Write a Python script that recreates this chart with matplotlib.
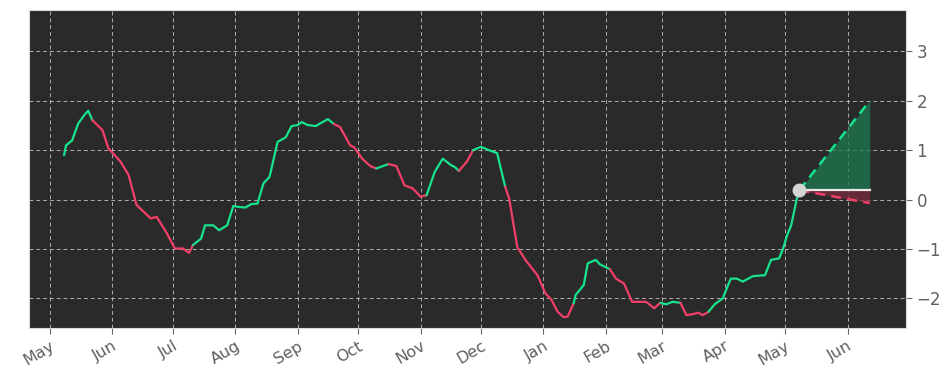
import matplotlib
matplotlib.use("Agg")
import matplotlib.pyplot as plt
import matplotlib.dates as mdates
import numpy as np
import pandas as pd

# ---- data ----
dates = [
    "2022-05-08", "2022-05-09", "2022-05-12", "2022-05-15", "2022-05-18", "2022-05-20",
    "2022-05-22", "2022-05-27", "2022-05-30", "2022-06-05", "2022-06-09", "2022-06-13",
    "2022-06-20", "2022-06-23", "2022-06-28", "2022-07-02", "2022-07-06", "2022-07-09",
    "2022-07-11", "2022-07-15", "2022-07-17", "2022-07-21", "2022-07-24", "2022-07-28",
    "2022-07-31", "2022-08-03", "2022-08-06", "2022-08-09", "2022-08-12", "2022-08-15",
    "2022-08-18", "2022-08-22", "2022-08-26", "2022-08-29", "2022-09-01", "2022-09-03",
    "2022-09-06", "2022-09-10", "2022-09-12", "2022-09-16", "2022-09-19", "2022-09-22",
    "2022-09-27", "2022-09-29", "2022-10-03", "2022-10-07", "2022-10-10", "2022-10-16",
    "2022-10-20", "2022-10-24", "2022-10-28", "2022-11-01", "2022-11-04", "2022-11-08",
    "2022-11-12", "2022-11-16", "2022-11-18", "2022-11-20", "2022-11-24", "2022-11-27",
    "2022-12-01", "2022-12-05", "2022-12-09", "2022-12-13", "2022-12-15", "2022-12-19",
    "2022-12-23", "2022-12-29", "2023-01-02", "2023-01-05", "2023-01-08", "2023-01-11",
    "2023-01-13", "2023-01-16", "2023-01-17", "2023-01-21", "2023-01-23", "2023-01-27",
    "2023-01-29", "2023-02-03", "2023-02-06", "2023-02-10", "2023-02-14", "2023-02-18",
    "2023-02-21", "2023-02-25", "2023-02-28", "2023-03-03", "2023-03-06", "2023-03-10",
    "2023-03-13", "2023-03-16", "2023-03-19", "2023-03-21", "2023-03-24", "2023-03-27",
    "2023-03-31", "2023-04-04", "2023-04-07", "2023-04-10", "2023-04-15", "2023-04-21",
    "2023-04-24", "2023-04-28", "2023-04-30", "2023-05-02", "2023-05-04", "2023-05-07",
    "2023-05-08",
]
values = [
    0.90, 1.10, 1.20, 1.54, 1.71, 1.80,
    1.61, 1.41, 1.04, 0.77, 0.50, -0.11,
    -0.38, -0.35, -0.68, -0.99, -0.99, -1.08,
    -0.92, -0.79, -0.52, -0.52, -0.62, -0.52,
    -0.13, -0.15, -0.16, -0.09, -0.08, 0.33,
    0.46, 1.17, 1.26, 1.49, 1.51, 1.57,
    1.51, 1.49, 1.54, 1.63, 1.53, 1.47,
    1.10, 1.06, 0.83, 0.68, 0.63, 0.72,
    0.68, 0.29, 0.23, 0.06, 0.09, 0.56,
    0.83, 0.70, 0.66, 0.58, 0.77, 1.00,
    1.07, 1.00, 0.94, 0.26, 0.02, -0.96,
    -1.22, -1.53, -1.90, -2.03, -2.27, -2.38,
    -2.37, -2.10, -1.93, -1.73, -1.29, -1.22,
    -1.31, -1.41, -1.60, -1.70, -2.07, -2.07,
    -2.07, -2.20, -2.09, -2.12, -2.07, -2.09,
    -2.34, -2.32, -2.29, -2.34, -2.27, -2.12,
    -2.00, -1.60, -1.60, -1.66, -1.55, -1.53,
    -1.22, -1.19, -0.99, -0.72, -0.52, 0.06,
    0.19,
]
# trend of the segment starting at each point: u = up (green), d = down (red)
trend = list(
    "uuuuuu"
    "dddddd"
    "dddddd"
    "uuuuuu"
    "uuuuuu"
    "uuuuuu"
    "uuuudd"
    "ddddud"
    "dddduu"
    "uuuddu"
    "uuuddd"
    "dddddd"
    "duuuuu"
    "uddddd"
    "dduuud"
    "dddduu"
    "uuuuuu"
    "uuuuuu"
    "u"
)

fc_dates = ["2023-05-08", "2023-06-12"]
fc_upper = [0.19, 2.00]
fc_mid = [0.19, 0.19]
fc_lower = [0.19, -0.07]

month_ticks = pd.date_range("2022-05-01", "2023-06-01", freq="MS")

# ---- style ----
GREEN = "#18e38d"
RED = "#f23f68"
BG = "#2a2a2a"
TXT = "#606060"

x = pd.to_datetime(dates)
y = np.array(values)

fig = plt.figure(figsize=(9.5, 3.81), dpi=100)
ax = fig.add_axes([29 / 950, 1 - 328 / 381, (906 - 29) / 950, (328 - 10) / 381])
ax.set_facecolor(BG)

# draw colored runs
n = len(x)
i = 0
while i < n - 1:
    t = trend[i]
    j = i
    while j < n - 1 and trend[j] == t:
        j += 1
    ax.plot(x[i:j + 1], y[i:j + 1], color=GREEN if t == "u" else RED,
            lw=1.6, solid_capstyle="round", zorder=3)
    i = j

# forecast
fx = pd.to_datetime(fc_dates)
ax.fill_between(fx, fc_mid, fc_upper, color="#1f7a52", alpha=0.75, lw=0, zorder=2)
ax.fill_between(fx, fc_lower, fc_mid, color="#7a2a3c", alpha=0.75, lw=0, zorder=2)
ax.plot(fx, fc_upper, color=GREEN, lw=1.8, ls=(0, (4, 2.5)), zorder=4)
ax.plot(fx, fc_lower, color=RED, lw=1.8, ls=(0, (4, 2.5)), zorder=4)
ax.plot(fx, fc_mid, color="#e8e8e8", lw=1.6, zorder=4)
ax.plot(fx[:1], fc_mid[:1], "o", color="#d6d6d6", ms=9, zorder=5)

ax.set_xlim(pd.Timestamp("2022-04-20 14:00"), pd.Timestamp("2023-06-30"))
ax.set_ylim(-2.6, 3.84)

ax.set_xticks(month_ticks)
ax.xaxis.set_major_formatter(mdates.DateFormatter("%b"))
for lab in ax.get_xticklabels():
    lab.set_rotation(30)
    lab.set_ha("right")
    lab.set_rotation_mode("anchor")

ax.yaxis.tick_right()
ax.set_yticks([-2, -1, 0, 1, 2, 3])
ax.tick_params(axis="both", colors="#666666", labelcolor=TXT, labelsize=12,
               length=4, width=0.8)
ax.tick_params(axis="x", labelsize=11.5)

ax.grid(True, color="#cfcfcf", ls=(0, (4, 3)), lw=0.7, alpha=0.8)
ax.set_axisbelow(True)
for s in ax.spines.values():
    s.set_color("#d9d9d9")
    s.set_linewidth(0.8)

fig.savefig("out.png", dpi=100, facecolor="white")
